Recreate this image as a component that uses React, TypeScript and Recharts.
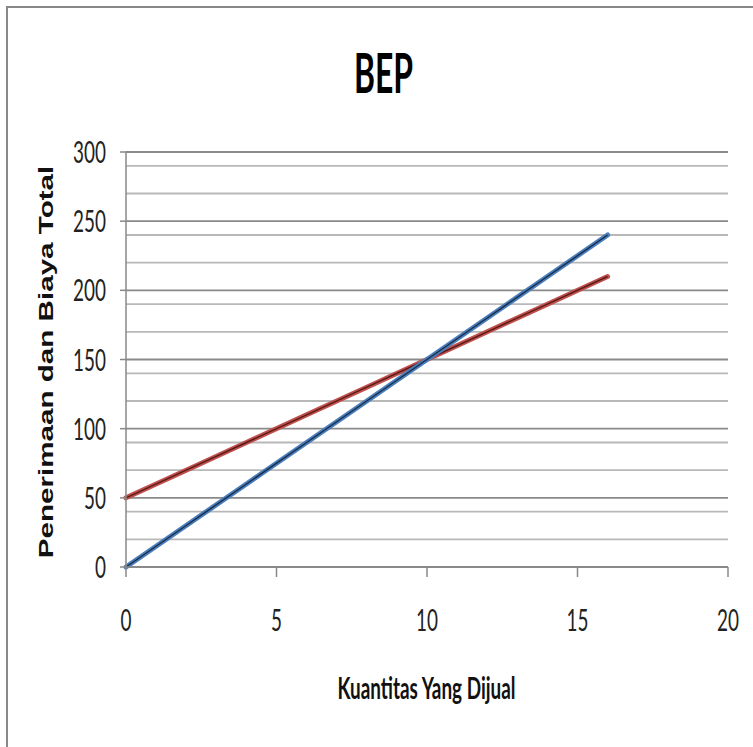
import {
    LineChart,
    Line,
    XAxis,
    YAxis,
    CartesianGrid,
} from "recharts";

const quantity = [0, 2, 4, 6, 8, 10, 12, 14, 16];
const revenue = [0, 30, 60, 90, 120, 150, 180, 210, 240];
const totalCost = [50, 70, 90, 110, 130, 150, 170, 190, 210];

const xTicks = [0, 5, 10, 15, 20];
const yTicks = [0, 50, 100, 150, 200, 250, 300];
const yMinor = [10, 20, 30, 40, 60, 70, 80, 90, 110, 120, 130, 140, 160, 170, 180, 190, 210, 220, 230, 240, 260, 270, 280, 290];

const title = "BEP";
const xTitle = "Kuantitas Yang Dijual";
const yTitle = "Penerimaan dan Biaya Total";

const data = quantity.map((q, i) => ({
    q,
    revenue: revenue[i],
    cost: totalCost[i],
}));

const narrow = "Lato, 'Liberation Sans', sans-serif";

const YTick = (props: any) => {
    const {x, y, payload} = props;
    return (
        <text
            transform={`translate(${x},${y + 11}) scale(0.62,1)`}
            textAnchor="end"
            fontFamily={narrow}
            fontSize={30.5}
            fill="#222"
        >
            {payload.value}
        </text>
    );
};

const XTick = (props: any) => {
    const {x, y, payload} = props;
    return (
        <text
            transform={`translate(${x},${y + 22}) scale(0.62,1)`}
            textAnchor="middle"
            fontFamily={narrow}
            fontSize={30.5}
            fill="#222"
        >
            {payload.value}
        </text>
    );
};

const App = () => {
    return (
        <div style={{position: "absolute", left: 0, top: 0, width: 753, height: 747, overflow: "hidden", background: "#fff"}}>
            <div style={{position: "absolute", left: 6, top: 6, width: 800, height: 800, border: "2px solid #888"}} />
            <div style={{position: "absolute", left: 0, top: 0}}>
                <LineChart
                    width={753}
                    height={747}
                    data={data}
                    margin={{top: 152, right: 25, left: 66, bottom: 120}}
                >
                    <CartesianGrid vertical={false} horizontalValues={yMinor} stroke="#b8b8b8" strokeWidth={1.8} />
                    <CartesianGrid vertical={false} horizontalValues={yTicks} stroke="#8a8a8a" strokeWidth={1.8} />
                    <XAxis
                        dataKey="q"
                        type="number"
                        domain={[0, 20]}
                        ticks={xTicks}
                        height={60}
                        tickSize={10}
                        tickMargin={32}
                        axisLine={{stroke: "#888", strokeWidth: 1.5}}
                        tickLine={{stroke: "#888", strokeWidth: 1.5}}
                        tick={<XTick />}
                    />
                    <YAxis
                        type="number"
                        domain={[0, 300]}
                        ticks={yTicks}
                        width={60}
                        tickSize={6}
                        tickMargin={14}
                        axisLine={{stroke: "#888", strokeWidth: 1.5}}
                        tickLine={{stroke: "#888", strokeWidth: 1.5}}
                        tick={<YTick />}
                    />
                    <Line dataKey="cost" stroke="#c0504d" strokeWidth={5} dot={false} strokeLinecap="round" isAnimationActive={false} />
                    <Line dataKey="cost" stroke="#5a1c1a" strokeWidth={1.5} dot={false} isAnimationActive={false} />
                    <Line dataKey="revenue" stroke="#4a7ebb" strokeWidth={5} dot={false} strokeLinecap="round" isAnimationActive={false} />
                    <Line dataKey="revenue" stroke="#1a2f4d" strokeWidth={1.5} dot={false} isAnimationActive={false} />
                </LineChart>
            </div>
            <svg width={753} height={747} style={{position: "absolute", left: 0, top: 0, pointerEvents: "none"}}>
                <text
                    transform="translate(383.5,93) scale(0.57,1)"
                    textAnchor="middle"
                    fontFamily={narrow}
                    fontWeight="bold"
                    fontSize={56}
                    fill="#000"
                >
                    {title}
                </text>
                <text
                    transform="translate(426.5,699) scale(0.62,1)"
                    textAnchor="middle"
                    fontFamily={narrow}
                    fontWeight="bold"
                    fontSize={30.5}
                    fill="#111"
                >
                    {xTitle}
                </text>
                <text
                    transform="translate(53,362) rotate(-90) scale(1.41,1)"
                    textAnchor="middle"
                    fontFamily="'Liberation Sans', Arial, sans-serif"
                    fontWeight="bold"
                    fontSize={21}
                    fill="#111"
                >
                    {yTitle}
                </text>
            </svg>
        </div>
    );
};

export default App;
